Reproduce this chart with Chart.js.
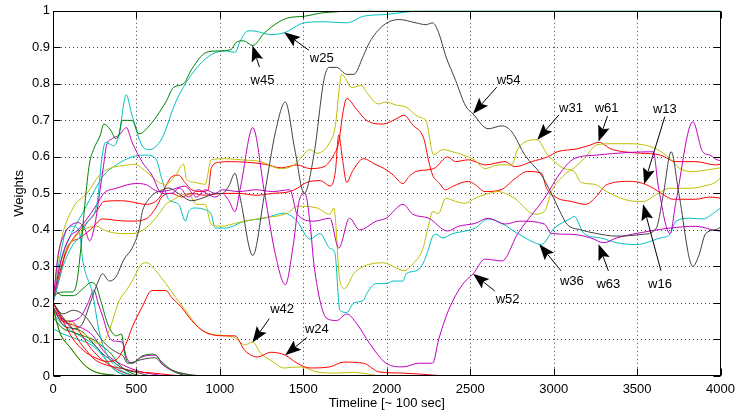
<!DOCTYPE html>
<html>
<head>
<meta charset="utf-8">
<script src="https://cdn.jsdelivr.net/npm/chart.js@4.4.1/dist/chart.umd.min.js"></script>
<style>
  html, body { margin: 0; padding: 0; background: #fff; }
</style>
</head>
<body>
<canvas id="weights" width="741" height="415"></canvas>
<script>
/* ---------------------------
   Tick labels
--------------------------- */
const xTicks = [0, 500, 1000, 1500, 2000, 2500, 3000, 3500, 4000];
const yTicks = [0, 0.1, 0.2, 0.3, 0.4, 0.5, 0.6, 0.7, 0.8, 0.9, 1];

/* ---------------------------
   Series: [timeline, weight]
--------------------------- */
const blueZero = [[0,0],[4000,0]];

const w45 = [[0,0.22],[60,0.23],[110,0.23],[140,0.25],[167,0.35],[193,0.48],[218,0.58],[243,0.62],[284,0.66],[304,0.69],[334,0.68],[350,0.67],[375,0.65],[395,0.66],[415,0.70],[446,0.70],[474,0.70],[515,0.663],[567,0.68],[676,0.75],[722,0.79],[782,0.80],[831,0.84],[918,0.886],[989,0.89],[1067,0.894],[1096,0.913],[1140,0.918],[1197,0.905],[1268,0.94],[1404,0.98],[1505,0.985],[1623,0.995],[1996,1],[4000,1]];

const w25 = [[0,0.2],[60,0.3],[120,0.36],[160,0.38],[203,0.42],[263,0.47],[294,0.6],[314,0.64],[337,0.636],[365,0.63],[395,0.66],[439,0.77],[470,0.72],[535,0.63],[578,0.62],[652,0.65],[735,0.75],[831,0.826],[948,0.88],[1040,0.89],[1090,0.886],[1125,0.92],[1168,0.945],[1197,0.945],[1304,0.935],[1386,0.94],[1505,0.967],[1623,0.97],[1760,0.967],[1860,0.985],[1996,0.99],[2216,1],[4000,1]];

const w54 = [[0,0.2],[60,0.16],[122,0.13],[172,0.14],[223,0.2],[263,0.25],[297,0.28],[337,0.26],[375,0.27],[426,0.32],[474,0.35],[515,0.40],[535,0.45],[567,0.48],[608,0.50],[634,0.505],[693,0.515],[750,0.50],[831,0.48],[912,0.49],[973,0.50],[1013,0.50],[1054,0.52],[1090,0.555],[1125,0.48],[1197,0.33],[1268,0.50],[1334,0.67],[1392,0.75],[1449,0.62],[1505,0.50],[1565,0.61],[1623,0.81],[1653,0.845],[1700,0.845],[1760,0.826],[1802,0.826],[1860,0.877],[1896,0.913],[1979,0.96],[2074,0.976],[2175,0.967],[2234,0.962],[2275,0.967],[2311,0.94],[2353,0.877],[2412,0.81],[2472,0.74],[2518,0.717],[2607,0.677],[2690,0.685],[2750,0.668],[2826,0.606],[2927,0.55],[2986,0.50],[3046,0.443],[3081,0.415],[3164,0.40],[3259,0.39],[3377,0.383],[3537,0.388],[3615,0.405],[3658,0.5],[3704,0.614],[3750,0.5],[3834,0.30],[3870,0.33],[3911,0.39],[3994,0.405],[4000,0.41]];

const w52 = [[0,0.2],[30,0.33],[70,0.39],[100,0.41],[152,0.42],[193,0.40],[219,0.37],[253,0.42],[279,0.5],[304,0.58],[320,0.63],[355,0.65],[397,0.66],[439,0.68],[474,0.64],[533,0.587],[593,0.55],[652,0.50],[710,0.5],[760,0.515],[810,0.49],[870,0.51],[920,0.5],[973,0.49],[1013,0.5],[1054,0.48],[1090,0.45],[1125,0.52],[1197,0.68],[1268,0.50],[1334,0.33],[1392,0.25],[1440,0.36],[1475,0.48],[1510,0.5],[1540,0.42],[1565,0.30],[1642,0.157],[1700,0.152],[1760,0.17],[1819,0.144],[1896,0.09],[1996,0.035],[2097,0.025],[2193,0.035],[2275,0.035],[2311,0.10],[2370,0.18],[2453,0.25],[2518,0.28],[2589,0.32],[2690,0.315],[2785,0.39],[2945,0.487],[3046,0.56],[3123,0.595],[3259,0.605],[3445,0.612],[3597,0.614],[3627,0.52],[3697,0.39],[3733,0.478],[3834,0.696],[3893,0.614],[3935,0.605],[3994,0.59],[4000,0.59]];

const w63 = [[0,0.2],[50,0.32],[100,0.38],[150,0.4],[203,0.43],[263,0.47],[304,0.5],[379,0.514],[497,0.527],[557,0.524],[634,0.505],[710,0.51],[790,0.52],[861,0.49],[912,0.51],[973,0.5],[1013,0.51],[1115,0.505],[1216,0.51],[1317,0.505],[1419,0.51],[1463,0.443],[1565,0.424],[1659,0.432],[1712,0.35],[1777,0.432],[1837,0.40],[1937,0.424],[1996,0.432],[2097,0.47],[2156,0.443],[2252,0.432],[2364,0.397],[2430,0.41],[2530,0.418],[2607,0.432],[2709,0.416],[2797,0.424],[2945,0.416],[2986,0.39],[3105,0.388],[3223,0.378],[3300,0.365],[3377,0.378],[3579,0.397],[3697,0.405],[3852,0.41],[3994,0.397],[4000,0.40]];

const w31 = [[0,0.2],[40,0.35],[120,0.46],[203,0.5],[279,0.55],[337,0.568],[456,0.578],[486,0.58],[557,0.56],[634,0.53],[676,0.525],[735,0.55],[782,0.58],[800,0.54],[850,0.53],[912,0.525],[948,0.592],[1032,0.595],[1125,0.592],[1244,0.587],[1363,0.568],[1446,0.578],[1481,0.595],[1540,0.62],[1582,0.61],[1659,0.64],[1689,0.677],[1731,0.826],[1790,0.79],[1849,0.796],[1879,0.777],[1950,0.745],[1996,0.75],[2056,0.742],[2116,0.736],[2193,0.709],[2234,0.70],[2281,0.606],[2335,0.62],[2394,0.614],[2453,0.606],[2530,0.59],[2589,0.568],[2666,0.578],[2749,0.578],[2785,0.622],[2900,0.647],[2963,0.606],[3010,0.585],[3063,0.568],[3123,0.56],[3165,0.53],[3243,0.525],[3318,0.505],[3402,0.487],[3496,0.478],[3537,0.478],[3615,0.497],[3697,0.514],[3800,0.514],[3900,0.52],[3994,0.54],[4000,0.545]];

const w16 = [[0,0.2],[40,0.3],[100,0.36],[182,0.4],[263,0.41],[304,0.40],[405,0.39],[474,0.39],[557,0.405],[634,0.443],[676,0.47],[710,0.48],[810,0.5],[861,0.47],[912,0.47],[948,0.415],[1007,0.41],[1108,0.42],[1244,0.432],[1404,0.446],[1463,0.465],[1582,0.46],[1659,0.443],[1683,0.46],[1719,0.26],[1748,0.24],[1802,0.28],[1860,0.30],[1979,0.31],[2056,0.296],[2103,0.288],[2156,0.307],[2216,0.348],[2252,0.416],[2275,0.45],[2310,0.445],[2353,0.487],[2412,0.478],[2472,0.473],[2530,0.487],[2589,0.497],[2666,0.505],[2767,0.486],[2886,0.443],[2945,0.45],[2986,0.505],[3063,0.55],[3123,0.57],[3182,0.595],[3259,0.633],[3342,0.636],[3460,0.636],[3615,0.622],[3697,0.595],[3756,0.568],[3834,0.56],[3970,0.568],[4000,0.57]];

const w13 = [[0,0.2],[50,0.3],[100,0.36],[162,0.40],[223,0.43],[274,0.46],[304,0.478],[405,0.48],[456,0.478],[557,0.47],[634,0.486],[676,0.52],[710,0.545],[753,0.55],[790,0.53],[831,0.51],[892,0.505],[930,0.51],[948,0.568],[993,0.585],[1064,0.587],[1165,0.585],[1267,0.58],[1368,0.57],[1463,0.578],[1540,0.568],[1623,0.573],[1683,0.606],[1712,0.64],[1737,0.72],[1760,0.76],[1819,0.73],[1879,0.70],[1979,0.69],[2056,0.704],[2103,0.714],[2156,0.687],[2222,0.65],[2252,0.587],[2275,0.55],[2311,0.53],[2353,0.51],[2394,0.519],[2489,0.533],[2530,0.524],[2589,0.505],[2685,0.51],[2767,0.54],[2844,0.56],[2927,0.555],[2957,0.514],[3022,0.487],[3105,0.478],[3192,0.47],[3253,0.49],[3318,0.524],[3460,0.533],[3537,0.527],[3597,0.514],[3656,0.497],[3716,0.484],[3851,0.484],[3935,0.49],[4000,0.487]];

const w61 = [[0,0.2],[40,0.27],[83,0.35],[160,0.378],[223,0.40],[298,0.43],[405,0.425],[474,0.424],[557,0.43],[616,0.46],[652,0.49],[710,0.50],[770,0.49],[831,0.50],[912,0.495],[1013,0.50],[1115,0.50],[1216,0.495],[1317,0.50],[1419,0.505],[1463,0.514],[1520,0.53],[1601,0.535],[1662,0.52],[1692,0.56],[1712,0.66],[1733,0.6],[1760,0.53],[1794,0.56],[1860,0.595],[1937,0.578],[1985,0.568],[2039,0.55],[2097,0.527],[2133,0.546],[2175,0.56],[2252,0.565],[2290,0.57],[2364,0.60],[2412,0.587],[2489,0.592],[2530,0.587],[2589,0.578],[2709,0.587],[2767,0.573],[2868,0.587],[2963,0.60],[3022,0.614],[3140,0.622],[3223,0.633],[3271,0.64],[3342,0.622],[3419,0.614],[3520,0.61],[3639,0.605],[3733,0.587],[3852,0.587],[3970,0.578],[4000,0.58]];

const w36 = [[0,0.2],[40,0.3],[100,0.38],[182,0.45],[263,0.52],[304,0.55],[379,0.578],[474,0.60],[557,0.605],[616,0.595],[652,0.54],[693,0.484],[753,0.47],[794,0.424],[812,0.45],[853,0.46],[912,0.455],[948,0.443],[972,0.405],[1032,0.405],[1149,0.424],[1268,0.432],[1386,0.446],[1446,0.432],[1463,0.424],[1540,0.375],[1600,0.39],[1659,0.35],[1689,0.337],[1719,0.18],[1760,0.174],[1802,0.2],[1860,0.207],[1879,0.225],[1937,0.253],[1996,0.253],[2039,0.26],[2097,0.26],[2116,0.28],[2175,0.288],[2216,0.307],[2252,0.35],[2275,0.383],[2293,0.388],[2335,0.378],[2394,0.39],[2472,0.397],[2530,0.405],[2607,0.43],[2680,0.42],[2785,0.39],[2886,0.365],[2927,0.36],[3004,0.405],[3105,0.432],[3123,0.437],[3182,0.39],[3282,0.378],[3377,0.365],[3496,0.36],[3639,0.378],[3697,0.388],[3733,0.424],[3816,0.432],[3893,0.43],[3970,0.45],[4000,0.46]];

const w24 = [[0,0.2],[60,0.15],[122,0.1],[182,0.07],[253,0.05],[324,0.04],[379,0.045],[439,0.09],[474,0.133],[533,0.188],[593,0.234],[676,0.234],[711,0.215],[770,0.188],[831,0.152],[912,0.12],[1032,0.11],[1090,0.11],[1149,0.07],[1227,0.052],[1304,0.065],[1392,0.057],[1463,0.035],[1540,0.022],[1659,0.025],[1742,0.038],[1860,0.035],[1956,0.011],[2097,0.008],[2293,0.002],[2400,0],[4000,0]];

const w42 = [[0,0.2],[60,0.16],[122,0.14],[203,0.11],[263,0.09],[304,0.095],[337,0.125],[397,0.206],[439,0.234],[474,0.26],[533,0.307],[563,0.31],[616,0.288],[676,0.253],[735,0.215],[794,0.18],[871,0.133],[930,0.117],[1032,0.11],[1090,0.105],[1149,0.085],[1197,0.093],[1244,0.062],[1304,0.043],[1386,0.022],[1481,0.025],[1582,0.011],[1700,0.008],[1800,0.01],[1979,0],[4000,0]];

const cyanFall = [[0,0.2],[40,0.32],[81,0.40],[122,0.41],[160,0.39],[177,0.32],[237,0.225],[279,0.117],[320,0.062],[379,0.025],[456,0.005],[507,0],[4000,0]];
const greenBump = [[0,0.24],[60,0.22],[122,0.22],[182,0.24],[228,0.256],[255,0.25],[290,0.2],[330,0.14],[380,0.11],[410,0.115],[430,0.06],[446,0.04],[470,0.035],[535,0.055],[600,0.06],[650,0.04],[700,0.02],[760,0.008],[850,0.002],[950,0],[4000,0]];
const magentaBump = [[0,0.2],[80,0.15],[160,0.16],[210,0.2],[245,0.235],[270,0.2],[300,0.16],[337,0.106],[380,0.095],[414,0.093],[440,0.052],[474,0.035],[533,0.052],[616,0.057],[652,0.035],[711,0.016],[794,0.006],[880,0],[4000,0]];
const blackBump = [[0,0.2],[60,0.17],[120,0.18],[200,0.16],[260,0.12],[320,0.085],[380,0.065],[420,0.055],[446,0.035],[530,0.045],[610,0.05],[660,0.03],[760,0.005],[860,0],[4000,0]];
const blackLow = [[0,0.19],[60,0.14],[120,0.13],[180,0.12],[240,0.09],[300,0.06],[360,0.04],[420,0.02],[500,0.01],[600,0],[4000,0]];
const redLowA = [[0,0.2],[50,0.16],[100,0.14],[150,0.1],[200,0.07],[250,0.045],[320,0.03],[420,0.02],[500,0.012],[600,0.008],[700,0.003],[800,0],[4000,0]];
const redLowB = [[0,0.18],[60,0.15],[110,0.15],[160,0.12],[220,0.08],[280,0.05],[340,0.03],[420,0.01],[520,0],[4000,0]];
const greenLowA = [[0,0.19],[40,0.12],[100,0.08],[150,0.05],[200,0.025],[260,0.01],[350,0.003],[450,0],[4000,0]];
const greenLowB = [[0,0.16],[60,0.13],[120,0.12],[180,0.11],[240,0.1],[300,0.08],[350,0.06],[400,0.03],[460,0.01],[550,0],[4000,0]];
const yellowLow = [[0,0.18],[50,0.11],[110,0.075],[180,0.035],[250,0.012],[330,0.004],[420,0],[4000,0]];
const cyanLowA = [[0,0.13],[60,0.115],[150,0.1],[230,0.085],[290,0.06],[340,0.03],[400,0.008],[460,0],[4000,0]];
const cyanLowB = [[0,0.17],[60,0.14],[120,0.12],[200,0.1],[260,0.08],[310,0.05],[360,0.02],[420,0.005],[500,0],[4000,0]];
const magentaLow = [[0,0.19],[60,0.15],[120,0.14],[180,0.13],[240,0.11],[300,0.07],[360,0.045],[420,0.03],[500,0.015],[600,0.005],[700,0],[4000,0]];

/* ---------------------------
   Arrow labels (data coords)
--------------------------- */
const notes = [
  { text: "w45", tip: [1195, 0.905], tail: [1237, 0.846], at: [1255, 0.81] },
  { text: "w25", tip: [1385, 0.941], tail: [1533, 0.892], at: [1610, 0.87] },
  { text: "w54", tip: [2517, 0.718], tail: [2659, 0.791], at: [2730, 0.81] },
  { text: "w31", tip: [2902, 0.647], tail: [3032, 0.715], at: [3104, 0.734] },
  { text: "w61", tip: [3269, 0.642], tail: [3323, 0.712], at: [3317, 0.734] },
  { text: "w13", tip: [3542, 0.525], tail: [3666, 0.71], at: [3666, 0.731] },
  { text: "w16", tip: [3536, 0.47], tail: [3643, 0.288], at: [3637, 0.252] },
  { text: "w63", tip: [3269, 0.361], tail: [3328, 0.288], at: [3328, 0.252] },
  { text: "w36", tip: [2914, 0.361], tail: [3044, 0.288], at: [3109, 0.26] },
  { text: "w52", tip: [2517, 0.28], tail: [2647, 0.233], at: [2724, 0.209] },
  { text: "w42", tip: [1195, 0.092], tail: [1296, 0.157], at: [1373, 0.181] },
  { text: "w24", tip: [1391, 0.057], tail: [1521, 0.105], at: [1581, 0.127] }
];

/* ---------------------------
   MATLAB-ish colours
--------------------------- */
const C = {
  blue: "#0000ff", green: "#008000", red: "#ff0000", cyan: "#00bfbf",
  magenta: "#bf00bf", yellow: "#bfbf00", black: "#404040"
};

function line(label, pts, color, width = 1) {
  return {
    label,
    data: pts.map(([x, y]) => ({ x, y })),
    borderColor: color,
    borderWidth: width,
    pointRadius: 0,
    cubicInterpolationMode: "monotone",
    fill: false
  };
}

const FONT = "'Liberation Sans', Arial, Helvetica, sans-serif";

/* ---------------------------
   Grid, box, inner ticks, arrows
--------------------------- */
function drawArrow(ctx, x0, y0, x1, y1) {
  const a = Math.atan2(y1 - y0, x1 - x0);
  const L = 16, W = 6, N = 3;
  const cx = Math.cos(a), sy = Math.sin(a);
  ctx.beginPath();
  ctx.moveTo(x0, y0);
  ctx.lineTo(x1 - cx * (L - N), y1 - sy * (L - N));
  ctx.stroke();
  const bx = x1 - cx * L, by = y1 - sy * L;
  ctx.beginPath();
  ctx.moveTo(x1, y1);
  ctx.lineTo(bx - sy * W, by + cx * W);
  ctx.lineTo(x1 - cx * (L - N), y1 - sy * (L - N));
  ctx.lineTo(bx + sy * W, by - cx * W);
  ctx.closePath();
  ctx.fill();
}

const framePlugin = {
  id: "frame",
  beforeDatasetsDraw(chart) {
    const { ctx, chartArea: a, scales: { x, y } } = chart;
    ctx.save();
    ctx.strokeStyle = "#444";
    ctx.lineWidth = 1;
    ctx.setLineDash([1, 3]);
    ctx.beginPath();
    xTicks.slice(1, -1).forEach(v => {
      const px = Math.round(x.getPixelForValue(v)) + 0.5;
      ctx.moveTo(px, a.top); ctx.lineTo(px, a.bottom);
    });
    yTicks.slice(1, -1).forEach(v => {
      const py = Math.round(y.getPixelForValue(v)) + 0.5;
      ctx.moveTo(a.left, py); ctx.lineTo(a.right, py);
    });
    ctx.stroke();
    ctx.restore();
  },
  afterDatasetsDraw(chart) {
    const { ctx, chartArea: a, scales: { x, y } } = chart;
    ctx.save();
    ctx.strokeStyle = "#000";
    ctx.lineWidth = 1;
    const L = Math.round(a.left) + 0.5, R = Math.round(a.right) - 0.5;
    const T = Math.round(a.top) + 0.5, B = Math.round(a.bottom) - 0.5;
    ctx.strokeRect(L, T, R - L, B - T);
    ctx.beginPath();
    const tl = 7;
    xTicks.forEach(v => {
      const px = Math.round(x.getPixelForValue(v)) + 0.5;
      ctx.moveTo(px, B); ctx.lineTo(px, B - tl);
      ctx.moveTo(px, T); ctx.lineTo(px, T + tl);
    });
    yTicks.forEach(v => {
      const py = Math.round(y.getPixelForValue(v)) + 0.5;
      ctx.moveTo(L, py); ctx.lineTo(L + tl, py);
      ctx.moveTo(R, py); ctx.lineTo(R - tl, py);
    });
    ctx.stroke();

    // arrows + labels
    ctx.fillStyle = "#000";
    ctx.strokeStyle = "#000";
    ctx.font = "13px " + FONT;
    ctx.textAlign = "center";
    ctx.textBaseline = "middle";
    notes.forEach(n => {
      const tx = x.getPixelForValue(n.tip[0]), ty = y.getPixelForValue(n.tip[1]);
      const sx = x.getPixelForValue(n.tail[0]), sy = y.getPixelForValue(n.tail[1]);
      drawArrow(ctx, sx, sy, tx, ty);
      ctx.fillText(n.text, x.getPixelForValue(n.at[0]), y.getPixelForValue(n.at[1]));
    });
    ctx.restore();
  }
};

/* ---------------------------
   Chart
--------------------------- */
const datasets = [
  line("blue", blueZero, C.blue, 2),
  line("w45", w45, C.green),
  line("w25", w25, C.cyan),
  line("w54", w54, C.black),
  line("w52", w52, C.magenta),
  line("w63", w63, C.magenta),
  line("w31", w31, C.yellow),
  line("w16", w16, C.yellow),
  line("w13", w13, C.red),
  line("w61", w61, C.red),
  line("w36", w36, C.cyan),
  line("w24", w24, C.red),
  line("w42", w42, C.yellow),
  line("cyanFall", cyanFall, C.cyan),
  line("greenBump", greenBump, C.green),
  line("magentaBump", magentaBump, C.magenta),
  line("blackBump", blackBump, C.black),
  line("blackLow", blackLow, C.black),
  line("redLowA", redLowA, C.red),
  line("redLowB", redLowB, C.red),
  line("greenLowA", greenLowA, C.green),
  line("greenLowB", greenLowB, C.green),
  line("yellowLow", yellowLow, C.yellow),
  line("cyanLowA", cyanLowA, C.cyan),
  line("cyanLowB", cyanLowB, C.cyan),
  line("magentaLow", magentaLow, C.magenta)
];

new Chart(document.getElementById("weights").getContext("2d"), {
  type: "line",
  data: { datasets },
  plugins: [framePlugin],
  options: {
    responsive: false,
    animation: false,
    devicePixelRatio: 1,
    layout: { padding: { top: 8, right: 13, left: 0, bottom: 0 } },
    plugins: { legend: { display: false }, tooltip: { enabled: false } },
    scales: {
      x: {
        type: "linear",
        min: 0, max: 4000,
        afterBuildTicks: s => { s.ticks = xTicks.map(v => ({ value: v })); },
        afterFit: s => { s.height = 39; },
        grid: { display: false, drawTicks: false },
        border: { display: false },
        ticks: { color: "#000", font: { family: FONT, size: 13 }, padding: 6, maxRotation: 0,
                 callback: v => String(v) },
        title: { display: true, text: "Timeline [~ 100 sec]", color: "#000",
                 font: { family: FONT, size: 13 }, padding: { top: 0, bottom: 4 } }
      },
      y: {
        min: 0, max: 1,
        afterBuildTicks: s => { s.ticks = yTicks.map(v => ({ value: v })); },
        afterFit: s => { s.width = 53; },
        grid: { display: false, drawTicks: false },
        border: { display: false },
        ticks: { color: "#000", font: { family: FONT, size: 13 }, padding: 3,
                 callback: v => String(Math.round(v * 10) / 10) },
        title: { display: true, text: "Weights", color: "#000",
                 font: { family: FONT, size: 13 }, padding: { top: 12, bottom: 0 } }
      }
    }
  }
});
</script>
</body>
</html>
